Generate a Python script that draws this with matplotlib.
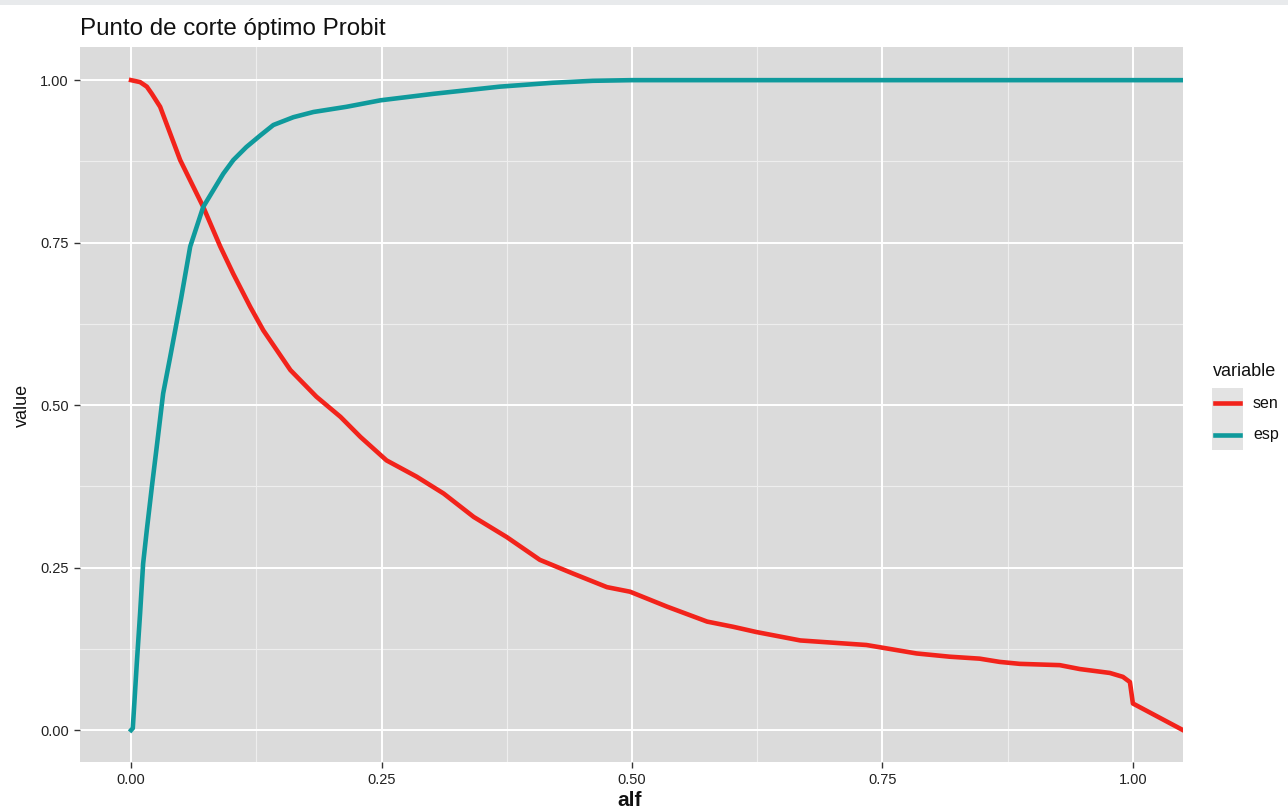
import numpy as np
import matplotlib.pyplot as plt
from matplotlib.lines import Line2D
from matplotlib.patches import Rectangle

plt.rcParams['font.family'] = ['Liberation Sans', 'DejaVu Sans']

# -------- data: sensitivity / specificity against the cut-off alf --------
alf_sen = [0, 0.009, 0.0157, 0.0207, 0.029, 0.039, 0.049, 0.072, 0.089, 0.102,
           0.119, 0.132, 0.159, 0.185, 0.209, 0.229, 0.255, 0.285, 0.312, 0.342,
           0.375, 0.408, 0.441, 0.475, 0.498, 0.535, 0.575, 0.601, 0.624, 0.668,
           0.734, 0.784, 0.817, 0.847, 0.867, 0.887, 0.927, 0.947, 0.977, 0.990,
           0.997, 1.0, 1.05]
sen = [1.0, 0.997, 0.990, 0.979, 0.959, 0.918, 0.877, 0.805, 0.744, 0.702,
       0.651, 0.615, 0.554, 0.513, 0.482, 0.451, 0.415, 0.390, 0.364, 0.328,
       0.297, 0.262, 0.241, 0.220, 0.213, 0.190, 0.167, 0.159, 0.151, 0.138,
       0.131, 0.118, 0.113, 0.110, 0.105, 0.102, 0.100, 0.094, 0.088, 0.082,
       0.074, 0.041, 0.0]

alf_esp = [0, 0.0017, 0.0057, 0.009, 0.012, 0.0157, 0.0207, 0.0256, 0.032, 0.039,
           0.044, 0.050, 0.059, 0.072, 0.092, 0.102, 0.115, 0.129, 0.142, 0.162,
           0.182, 0.215, 0.249, 0.302, 0.368, 0.421, 0.461, 0.5, 0.75, 1.05]
esp = [0, 0.003, 0.103, 0.18, 0.256, 0.308, 0.374, 0.436, 0.518, 0.574,
       0.615, 0.665, 0.744, 0.805, 0.856, 0.877, 0.897, 0.915, 0.931, 0.943,
       0.951, 0.959, 0.969, 0.979, 0.990, 0.996, 0.999, 1.0, 1.0, 1.0]

series = ['sen', 'esp']
colors = {'sen': '#F2231B', 'esp': '#0F9A9C'}
ticks = [0.0, 0.25, 0.5, 0.75, 1.0]
tick_labels = ['0.00', '0.25', '0.50', '0.75', '1.00']

# -------- figure, ggplot-like grey panel --------
W, H = 1288, 808
fig = plt.figure(figsize=(W / 100, H / 100), dpi=100)
ax = fig.add_axes([80 / W, 1 - 762 / H, (1183 - 80) / W, (762 - 47) / H])
ax.set_facecolor('#DBDBDB')
for s in ax.spines.values():
    s.set_visible(False)

ax.set_xlim(-0.051, 1.05)
ax.set_ylim(-0.049, 1.051)

for v in [0.125, 0.375, 0.625, 0.875]:
    ax.axvline(v, color='#EEEEEE', lw=0.8, zorder=0)
    ax.axhline(v, color='#EEEEEE', lw=0.8, zorder=0)
for v in ticks:
    ax.axvline(v, color='white', lw=1.4, zorder=0)
    ax.axhline(v, color='white', lw=1.4, zorder=0)

ax.plot(alf_sen, sen, color=colors['sen'], lw=3.3, solid_joinstyle='round')
ax.plot(alf_esp, esp, color=colors['esp'], lw=3.3, solid_joinstyle='round')

ax.set_xticks(ticks)
ax.set_xticklabels(tick_labels)
ax.set_yticks(ticks)
ax.set_yticklabels(tick_labels)
ax.tick_params(length=4, width=1, color='#333333', labelsize=10.5,
               labelcolor='#222222', pad=4)

fig.text(80 / W, 1 - 29 / H, 'Punto de corte óptimo Probit', fontsize=17.4,
         ha='left', va='center', color='#111111')
fig.text(630 / W, 1 - 800 / H, 'alf', fontsize=15, ha='center', va='center',
         color='#111111', weight='bold')
fig.text(22 / W, 1 - 405 / H, 'value', fontsize=13, rotation=90,
         ha='center', va='center', color='#111111')

# -------- legend drawn by hand at the right of the panel --------
fig.text(1213 / W, 1 - 371 / H, 'variable', fontsize=13, ha='left',
         va='center', color='#111111')
fig.add_artist(Rectangle((1212 / W, 1 - 450 / H), 31 / W, 62 / H,
                         transform=fig.transFigure, color='#E3E3E3', lw=0))
for i, name in enumerate(series):
    yk = 1 - (403 + 32 * i) / H
    fig.add_artist(Line2D([1215 / W, 1240 / W], [yk, yk], color=colors[name],
                          lw=3.3, transform=fig.transFigure))
    fig.text(1253 / W, yk, name, fontsize=11.5, ha='left', va='center',
             color='#111111')

# thin grey strip along the top edge
fig.add_artist(Rectangle((0, 1 - 5 / H), 1, 5 / H, transform=fig.transFigure,
                         color='#E8EAEC', lw=0))

fig.savefig('out.png', dpi=100)
